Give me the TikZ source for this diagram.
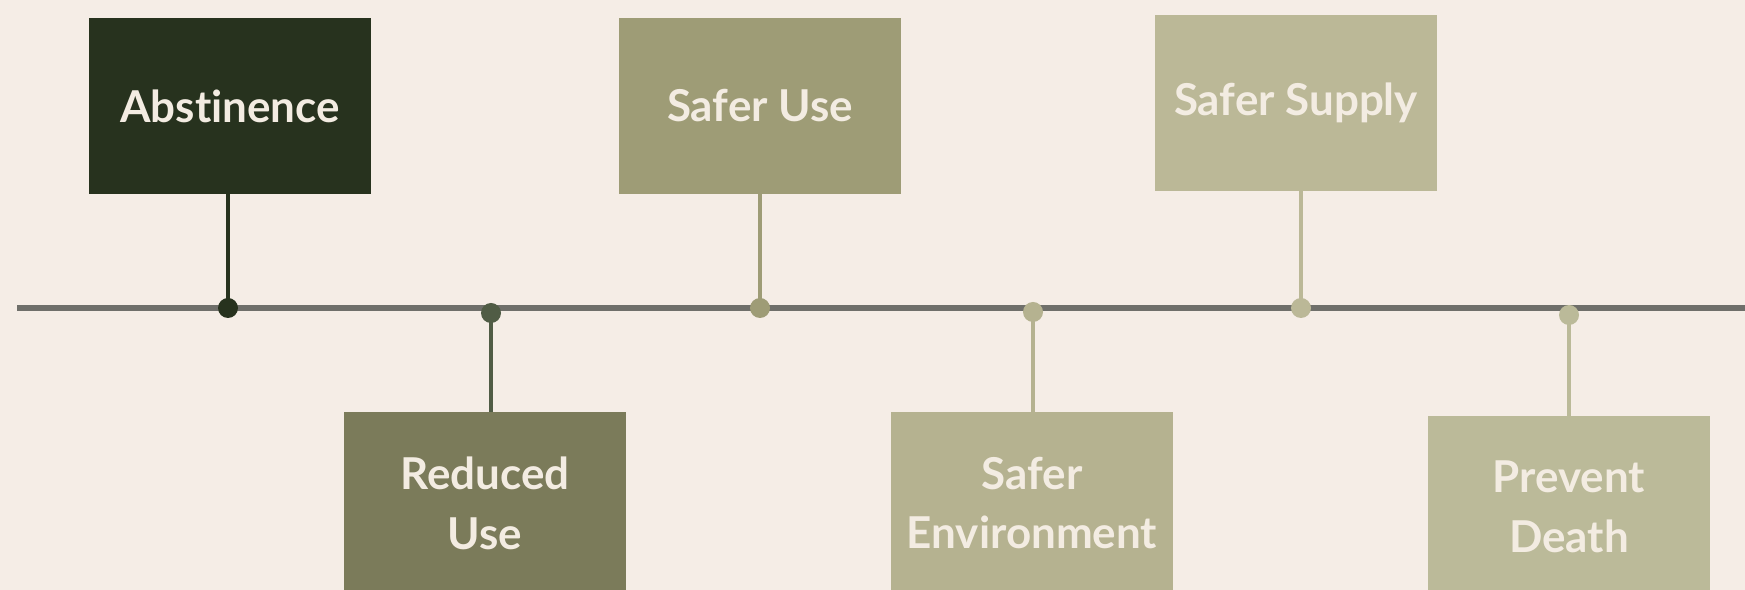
\documentclass[tikz,border=0pt]{standalone}
\usepackage{fontspec}
\setmainfont{Lato}[Ligatures=NoCommon]
\definecolor{bgcream}{HTML}{F5EDE6}
\definecolor{linegray}{HTML}{6F6F6A}
\definecolor{txtcream}{HTML}{F3ECE2}
\definecolor{abst}{HTML}{27321E}
\definecolor{redu}{HTML}{7B7B5A}
\definecolor{redudot}{HTML}{505C45}
\definecolor{safeuse}{HTML}{9E9C76}
\definecolor{safeenv}{HTML}{B5B290}
\definecolor{safesup}{HTML}{BBB897}
\definecolor{prevd}{HTML}{BBBA99}
\tikzset{
  stagebox/.style={fill=#1, draw=none, minimum width=5.66cm, minimum height=3.52cm,
    text=txtcream, align=center, inner sep=0pt,
    font=\fontsize{25}{34}\selectfont\bfseries},
  lowbox/.style={stagebox=#1, minimum height=3.64cm},
  stem/.style={draw=#1, line width=1.8pt},
  dot/.style={fill=#1}
}
\begin{document}
\begin{tikzpicture}[x=0.02cm, y=-0.02cm]
\useasboundingbox (0,0) rectangle (1745,590);
\fill[bgcream] (0,0) rectangle (1745,590);
% timeline
\draw[linegray, line width=3pt] (17,308) -- (1745,308);
% stages above the line
\node[stagebox=abst] (b1) at (230,106) {Abstinence};
\node[stagebox=safeuse] (b3) at (760,106) {Safer Use};
\node[stagebox=safesup] (b5) at (1296,103) {Safer Supply};
% stages below the line
\node[lowbox=redu] (b2) at (485,503) {Reduced\\Use};
\node[lowbox=safeenv] (b4) at (1032,503) {Safer\\Environment};
\node[lowbox=prevd] (b6) at (1569,507) {Prevent\\Death};
% points on the line
\coordinate (p1) at (228,308);
\coordinate (p2) at (491,313);
\coordinate (p3) at (760,308);
\coordinate (p4) at (1033,312);
\coordinate (p5) at (1301,308);
\coordinate (p6) at (1569,315);
\draw[stem=abst] (b1.south -| p1) -- (p1);
\draw[stem=redudot] (b2.north -| p2) -- (p2);
\draw[stem=safeuse] (b3.south -| p3) -- (p3);
\draw[stem=safeenv] (b4.north -| p4) -- (p4);
\draw[stem=safesup] (b5.south -| p5) -- (p5);
\draw[stem=prevd] (b6.north -| p6) -- (p6);
\fill[dot=abst] (p1) circle (10);
\fill[dot=redudot] (p2) circle (10);
\fill[dot=safeuse] (p3) circle (10);
\fill[dot=safeenv] (p4) circle (10);
\fill[dot=safesup] (p5) circle (10);
\fill[dot=prevd] (p6) circle (10);
\end{tikzpicture}
\end{document}
